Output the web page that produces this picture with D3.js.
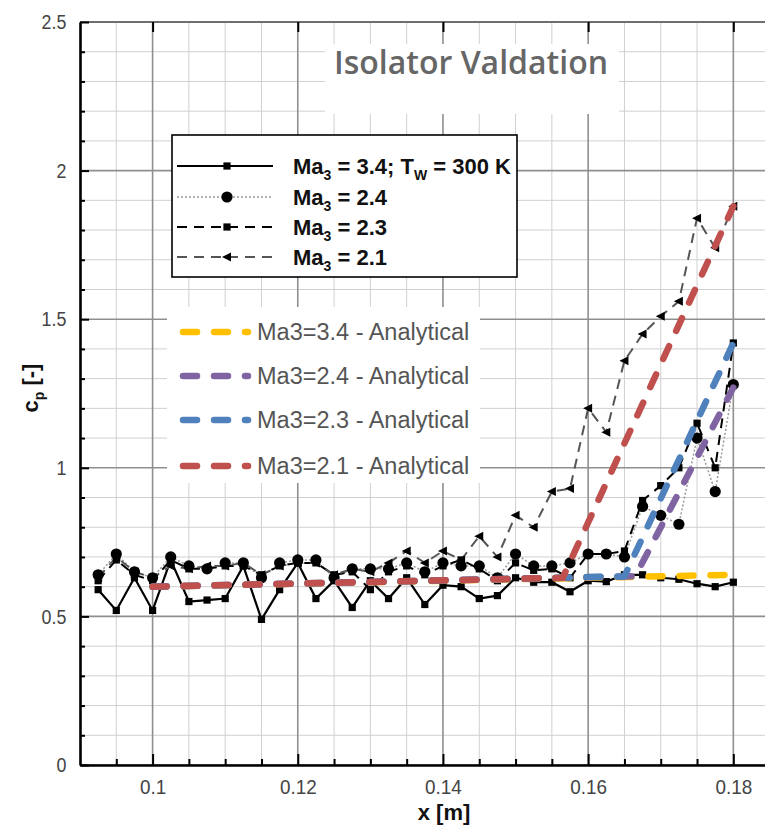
<!DOCTYPE html>
<html>
<head>
<meta charset="utf-8">
<script src="https://cdn.jsdelivr.net/npm/d3@7"></script>
<style>
  body { margin: 0; background: #fff; }
  svg { display: block; font-family: "Liberation Sans", Arial, sans-serif; }
</style>
</head>
<body>
<svg id="isolator" width="765" height="829"></svg>
<script>
// data
var xPos = [0.0925,0.095,0.0975,0.1,0.1025,0.105,0.1075,0.11,0.1125,0.115,0.1175,0.12,
            0.1225,0.125,0.1275,0.13,0.1325,0.135,0.1375,0.14,0.1425,0.145,0.1475,0.15,
            0.1525,0.155,0.1575,0.16,0.1625,0.165,0.1675,0.17,0.1725,0.175,0.1775,0.18]

var ma34 = [0.59,0.52,0.63,0.52,0.69,0.55,0.555,0.56,0.67,0.49,0.59,0.68,
            0.56,0.62,0.53,0.62,0.56,0.63,0.54,0.605,0.60,0.56,0.57,0.63,
            0.615,0.615,0.583,0.62,0.617,0.64,0.64,0.63,0.625,0.61,0.60,0.615]
var ma24 = [0.64,0.71,0.65,0.63,0.70,0.67,0.66,0.68,0.68,0.63,0.68,0.69,
            0.69,0.63,0.66,0.66,0.66,0.68,0.65,0.68,0.67,0.67,0.63,0.71,
            0.67,0.67,0.68,0.71,0.71,0.70,0.87,0.84,0.81,1.10,0.92,1.28]
var ma23 = [0.62,0.69,0.64,0.62,0.69,0.66,0.66,0.67,0.67,0.64,0.67,0.68,
            0.68,0.64,0.65,0.59,0.65,0.67,0.64,0.67,0.69,0.66,0.62,0.68,
            0.655,0.66,0.63,0.71,0.71,0.72,0.89,0.94,1.00,1.15,1.00,1.42]
var ma21 = [0.63,0.70,0.65,0.63,0.67,0.66,0.67,0.67,0.68,0.64,0.67,0.68,
            0.68,0.64,0.66,0.65,0.68,0.72,0.68,0.72,0.69,0.77,0.70,0.84,
            0.80,0.92,0.93,1.20,1.12,1.36,1.45,1.51,1.56,1.84,1.74,1.88]

// analytical lines (break points)
var ana34X = [0.1, 0.18],           ana34Y = [0.60, 0.64]
var ana24X = [0.1, 0.1665, 0.18],   ana24Y = [0.60, 0.635, 1.27]
var ana23X = [0.1, 0.165, 0.18],    ana23Y = [0.60, 0.635, 1.42]
var ana21X = [0.1, 0.1565, 0.18],   ana21Y = [0.60, 0.63, 1.88]

var xMajor = [0.1, 0.12, 0.14, 0.16, 0.18]
var xMinor = [0.09,0.095,0.105,0.11,0.115,0.125,0.13,0.135,0.145,0.15,0.155,0.165,0.17,0.175]
var yMajor = [0, 0.5, 1, 1.5, 2, 2.5]
var yMinor = [0.1,0.2,0.3,0.4,0.6,0.7,0.8,0.9,1.1,1.2,1.3,1.4,1.6,1.7,1.8,1.9,2.1,2.2,2.3,2.4]

var cfdNames = ["3.4", "2.4", "2.3", "2.1"]
var anaNames = ["Ma3=3.4 - Analytical", "Ma3=2.4 - Analytical", "Ma3=2.3 - Analytical", "Ma3=2.1 - Analytical"]
var anaColors = ["#FFC000", "#8064A2", "#4F81BD", "#C0504D"]

var svg = d3.select("#isolator")
var plot = {left:80, right:766, top:22, bottom:765}

var xScale = d3.scaleLinear().domain([0.09, 0.1845]).range([plot.left, plot.right])
var yScale = d3.scaleLinear().domain([0, 2.5]).range([plot.bottom, plot.top])

var cfdStyles = [
    {stroke:"#000", width:2.2, dash:null, marker:"square"},
    {stroke:"#999", width:1.5, dash:"2,2", marker:"circle"},
    {stroke:"#000", width:2, dash:"10,7", marker:"square"},
    {stroke:"#555", width:2, dash:"10,7", marker:"triangle"}
]

var drawGrid = function() {
    var g = svg.append("g").attr("class", "grid")
    g.selectAll(".vmin").data(xMinor).enter().append("line")
        .attr("x1", d => xScale(d)).attr("x2", d => xScale(d))
        .attr("y1", plot.top).attr("y2", plot.bottom)
        .attr("stroke", "#d0d0d0").attr("stroke-width", 1)
    g.selectAll(".hmin").data(yMinor).enter().append("line")
        .attr("x1", plot.left).attr("x2", plot.right)
        .attr("y1", d => yScale(d)).attr("y2", d => yScale(d))
        .attr("stroke", "#d0d0d0").attr("stroke-width", 1)
    g.selectAll(".vmaj").data(xMajor).enter().append("line")
        .attr("x1", d => xScale(d)).attr("x2", d => xScale(d))
        .attr("y1", plot.top).attr("y2", plot.bottom)
        .attr("stroke", "#8f8f8f").attr("stroke-width", 1.6)
    g.selectAll(".hmaj").data(yMajor).enter().append("line")
        .attr("x1", plot.left).attr("x2", plot.right)
        .attr("y1", d => yScale(d)).attr("y2", d => yScale(d))
        .attr("stroke", "#8f8f8f").attr("stroke-width", 1.6)
    // top border
    svg.append("line").attr("x1", plot.left).attr("x2", plot.right)
        .attr("y1", plot.top).attr("y2", plot.top)
        .attr("stroke", "#6e6e6e").attr("stroke-width", 2)
}

var drawMarker = function(sel, type, x, y) {
    if (type == "square") {
        sel.append("rect").attr("x", x-3.6).attr("y", y-3.6).attr("width", 7.2).attr("height", 7.2).attr("fill", "#000")
    } else if (type == "circle") {
        sel.append("circle").attr("cx", x).attr("cy", y).attr("r", 5.6).attr("fill", "#000")
    } else {
        sel.append("path").attr("d", "M"+(x-5)+","+y+"L"+(x+4)+","+(y-4.5)+"L"+(x+4)+","+(y+4.5)+"Z").attr("fill", "#000")
    }
}

var drawCfd = function() {
    var series = [ma34, ma24, ma23, ma21]
    var line = d3.line().x((d,i) => xScale(xPos[i])).y(d => yScale(d))
    var g = svg.append("g").attr("class", "cfd")
    series.forEach(function(vals, k) {
        var st = cfdStyles[k]
        g.append("path").datum(vals)
            .attr("d", line)
            .attr("fill", "none")
            .attr("stroke", st.stroke)
            .attr("stroke-width", st.width)
            .attr("stroke-dasharray", st.dash)
    })
    series.forEach(function(vals, k) {
        vals.forEach(function(v, i) { drawMarker(g, cfdStyles[k].marker, xScale(xPos[i]), yScale(v)) })
    })
}

var drawAnalytical = function() {
    var sets = [[ana34X, ana34Y], [ana24X, ana24Y], [ana23X, ana23Y], [ana21X, ana21Y]]
    var g = svg.append("g").attr("class", "analytical")
    sets.forEach(function(s, k) {
        var pts = s[0].map((x, i) => [x, s[1][i]])
        g.append("path").datum(pts)
            .attr("d", d3.line().x(d => xScale(d[0])).y(d => yScale(d[1])))
            .attr("fill", "none")
            .attr("stroke", anaColors[k])
            .attr("stroke-width", 6.5)
            .attr("stroke-linecap", "round")
            .attr("stroke-dasharray", "14,17")
    })
}

var drawAxes = function() {
    var yAxis = d3.axisLeft(yScale).tickValues(yMajor).tickSizeInner(-9).tickSizeOuter(0)
        .tickPadding(16).tickFormat(d3.format(""))
    var gy = svg.append("g").attr("transform", "translate("+plot.left+",0)").call(yAxis)
    svg.append("g").attr("transform", "translate("+plot.left+",0)")
        .call(d3.axisLeft(yScale).tickValues(yMinor).tickSizeInner(-5).tickSizeOuter(0).tickFormat(""))
        .select(".domain").remove()

    var xAxis = d3.axisBottom(xScale).tickValues(xMajor).tickSizeInner(-11).tickSizeOuter(0)
        .tickPadding(14).tickFormat(d3.format(""))
    var gx = svg.append("g").attr("transform", "translate(0,"+plot.bottom+")").call(xAxis)
    svg.append("g").attr("transform", "translate(0,"+plot.bottom+")")
        .call(d3.axisBottom(xScale).tickValues(xMinor.slice(1)).tickSizeInner(-6).tickSizeOuter(0).tickFormat(""))
        .select(".domain").remove()
    // ticks on top border
    svg.append("g").attr("transform", "translate(0,"+plot.top+")")
        .call(d3.axisTop(xScale).tickValues(xMajor).tickSizeInner(-10).tickSizeOuter(0).tickFormat(""))
        .select(".domain").remove()

    svg.selectAll(".tick line").attr("stroke", "#000").attr("stroke-width", 2)
    svg.selectAll(".domain").attr("stroke", "#000").attr("stroke-width", 2.6)
    gy.selectAll("text").style("font-size", "21px").attr("fill", "#444")
        .attr("transform", "scale(0.85,1)")
    gx.selectAll("text").style("font-size", "21px").attr("fill", "#444")
        .attr("transform", "scale(0.9,1)")
}

var drawLegends = function() {
    // legend 1: CFD series
    var l1 = svg.append("g")
    l1.append("rect").attr("x", 172).attr("y", 135).attr("width", 345).attr("height", 142)
        .attr("fill", "#fff").attr("stroke", "#000").attr("stroke-width", 1.6)
    var rows1 = [166, 197, 227, 257]
    cfdNames.forEach(function(name, k) {
        var st = cfdStyles[k], y = rows1[k]
        l1.append("line").attr("x1", 177).attr("x2", 273).attr("y1", y).attr("y2", y)
            .attr("stroke", st.stroke).attr("stroke-width", st.width).attr("stroke-dasharray", st.dash)
        drawMarker(l1, st.marker, 227, y)
        var t = l1.append("text").attr("x", 293).attr("y", y + 8)
            .style("font-size", "22px").style("font-weight", "bold").attr("fill", "#111")
        t.append("tspan").text("Ma")
        t.append("tspan").text("3").style("font-size", "14px").attr("dy", 6)
        t.append("tspan").text(" = " + name + (k == 0 ? "; T" : "")).attr("dy", -6)
        if (k == 0) {
            t.append("tspan").text("W").style("font-size", "14px").attr("dy", 6)
            t.append("tspan").text(" = 300 K").attr("dy", -6)
        }
    })

    // legend 2: analytical
    var l2 = svg.append("g")
    l2.append("rect").attr("x", 167).attr("y", 307).attr("width", 313).attr("height", 176).attr("fill", "#fff")
    var rows2 = [332, 376, 420, 466]
    anaNames.forEach(function(name, k) {
        var y = rows2[k]
        l2.append("line").attr("x1", 183).attr("x2", 248).attr("y1", y).attr("y2", y)
            .attr("stroke", anaColors[k]).attr("stroke-width", 6.5)
            .attr("stroke-linecap", "round").attr("stroke-dasharray", "14,17")
        l2.append("text").attr("x", 257).attr("y", y + 8).text(name)
            .style("font-size", "23.5px").attr("fill", "#555")
    })
}

var drawLabels = function() {
    svg.append("rect").attr("x", 325).attr("y", 44).attr("width", 294).attr("height", 70).attr("fill", "#fff")
    svg.append("text").attr("x", 471).attr("y", 74).attr("text-anchor", "middle")
        .text("Isolator Valdation")
        .style("font-family", "'Open Sans', sans-serif").style("font-weight", 600)
        .style("font-size", "32px").attr("fill", "#666")

    var yl = svg.append("text").attr("transform", "translate(38,388) rotate(-90)")
        .attr("text-anchor", "middle").style("font-size", "22px").style("font-weight", "bold").attr("fill", "#111")
    yl.append("tspan").text("c")
    yl.append("tspan").text("p").style("font-size", "14px").attr("dy", 6)
    yl.append("tspan").text(" [-]").attr("dy", -6)

    svg.append("text").attr("x", 444).attr("y", 820).attr("text-anchor", "middle")
        .text("x [m]").style("font-size", "22px").style("font-weight", "bold").attr("fill", "#111")
}

drawGrid()
drawAxes()
drawCfd()
drawAnalytical()
drawLegends()
drawLabels()
</script>
</body>
</html>
